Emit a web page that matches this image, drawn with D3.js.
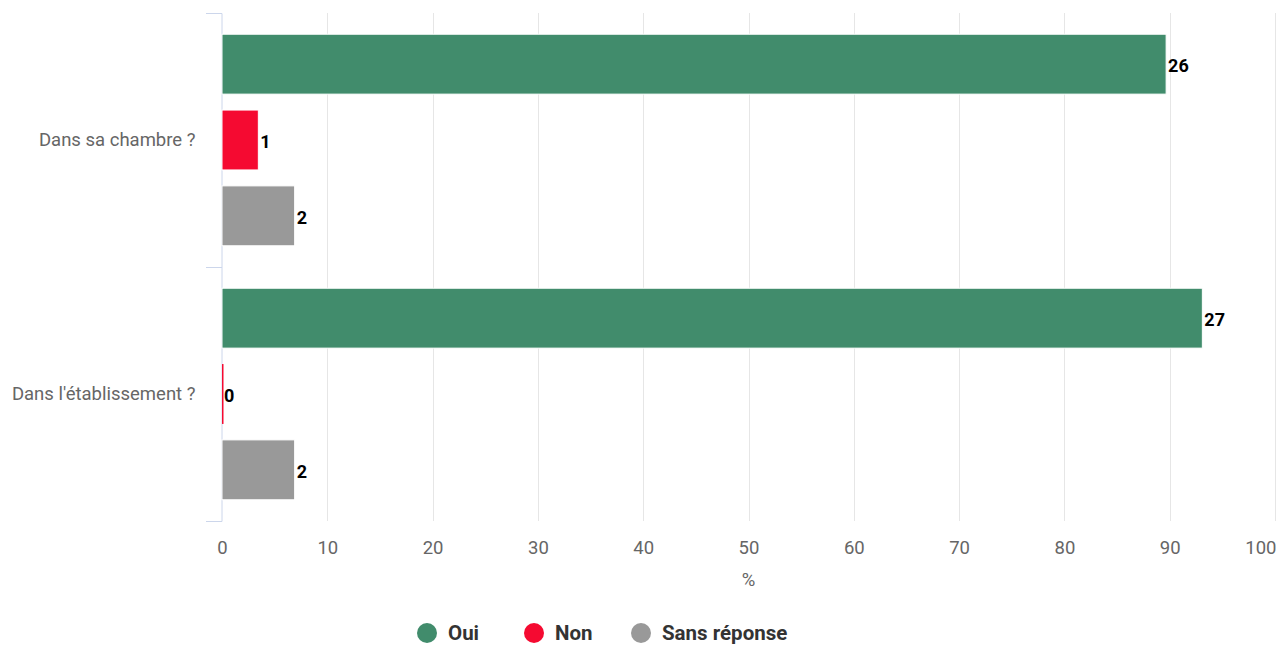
<!DOCTYPE html>
<html>
<head>
<meta charset="utf-8">
<script src="https://cdn.jsdelivr.net/npm/d3@7"></script>
<style>
  body { margin: 0; background: #fff; }
  svg { font-family: Roboto, "Noto Sans", sans-serif; }
</style>
</head>
<body>
<div id="chart"></div>
<script>
// categories, series, values (percent) and counts shown on the bars
var categories = ["Dans sa chambre ?", "Dans l'établissement ?"];
var seriesNames = ["Oui", "Non", "Sans réponse"];
var seriesColors = ["#418c6c", "#f50a31", "#999999"];
var ouiPct = [89.66, 93.1];
var nonPct = [3.45, 0];
var sansPct = [6.9, 6.9];
var ouiCount = [26, 27];
var nonCount = [1, 0];
var sansCount = [2, 2];
var xTicks = [0, 10, 20, 30, 40, 50, 60, 70, 80, 90, 100];

var w = 1277, h = 645
    , plotLeft = 222, plotRight = 1275, plotTop = 13, plotBottom = 521;

var pct = [ouiPct, nonPct, sansPct];
var counts = [ouiCount, nonCount, sansCount];
var data = [];
categories.forEach(function(c, ci) {
  seriesNames.forEach(function(s, si) {
    data.push({cat: c, series: s, si: si, value: pct[si][ci], count: counts[si][ci]});
  });
});

var svg = d3.select("#chart").append("svg")
    .attr("width", w)
    .attr("height", h);

var xScale = d3.scaleLinear().domain([0, 100]).range([plotLeft, plotRight]);
var yScale = d3.scaleBand().domain(categories).range([plotTop, plotBottom]);
var inner = d3.scaleBand().domain(seriesNames).range([0, yScale.bandwidth()]).paddingInner(0.21).paddingOuter(0.28);

// grid
svg.append("g")
    .selectAll("line")
    .data(xTicks.slice(1))
    .enter()
    .append("line")
    .attr("x1", function(d) { return Math.round(xScale(d)) + 0.5; })
    .attr("x2", function(d) { return Math.round(xScale(d)) + 0.5; })
    .attr("y1", plotTop)
    .attr("y2", plotBottom)
    .attr("stroke", "#e6e6e6")
    .attr("stroke-width", 1);

// x axis labels
var xAxis = d3.axisBottom(xScale).tickValues(xTicks).tickSize(0).tickPadding(20);
var gx = svg.append("g")
    .attr("transform", "translate(0," + plotBottom + ")")
    .call(xAxis);
gx.select(".domain").remove();
gx.selectAll("text")
    .attr("fill", "#666666")
    .style("font-size", "18.5px")
    .style("font-family", "Roboto, sans-serif");
// keep the last label inside the frame
gx.selectAll(".tick").filter(function(d) { return d === 100; })
    .select("text")
    .attr("text-anchor", "end")
    .attr("x", 1);

svg.append("text")
    .attr("x", (plotLeft + plotRight) / 2)
    .attr("y", 586)
    .attr("text-anchor", "middle")
    .attr("fill", "#666666")
    .style("font-size", "18.5px")
    .text("%");

// y axis
var yAxis = d3.axisLeft(yScale).tickSize(0).tickPadding(26);
var gy = svg.append("g")
    .attr("transform", "translate(" + (plotLeft - 0.5) + ",0)")
    .call(yAxis);
gy.select(".domain").attr("stroke", "#ccd6eb");
gy.selectAll("text")
    .attr("fill", "#666666")
    .style("font-size", "18.5px")
    .style("font-family", "Roboto, sans-serif");
// category boundary ticks
var bounds = categories.map(function(c) { return yScale(c); }).concat([plotBottom]);
svg.append("g")
    .selectAll("line")
    .data(bounds)
    .enter()
    .append("line")
    .attr("x1", plotLeft - 16)
    .attr("x2", plotLeft)
    .attr("y1", function(d) { return Math.round(d) + 0.5; })
    .attr("y2", function(d) { return Math.round(d) + 0.5; })
    .attr("stroke", "#ccd6eb");

// bars
var bars = svg.append("g");
bars.selectAll("rect")
    .data(data)
    .enter()
    .append("rect")
    .attr("x", xScale(0))
    .attr("y", function(d) { return yScale(d.cat) + inner(d.series); })
    .attr("width", function(d) { return Math.max(xScale(d.value) - xScale(0), 1.5); })
    .attr("height", inner.bandwidth())
    .attr("fill", function(d) { return seriesColors[d.si]; })
    .attr("stroke", "#ffffff")
    .attr("stroke-width", function(d) { return d.value > 0 ? 1 : 0; });

bars.selectAll("text")
    .data(data)
    .enter()
    .append("text")
    .attr("x", function(d) { return xScale(d.value) + 2; })
    .attr("y", function(d) { return yScale(d.cat) + inner(d.series) + inner.bandwidth() / 2; })
    .attr("dy", "0.45em")
    .attr("fill", "#000000")
    .style("font-size", "18px")
    .style("font-weight", "bold")
    .text(function(d) { return d.count; });

// legend
var legendX = [427, 534, 641];
var legend = svg.append("g");
var items = legend.selectAll("g")
    .data(seriesNames)
    .enter()
    .append("g")
    .attr("transform", function(d, i) { return "translate(" + legendX[i] + ",633)"; });
items.append("circle")
    .attr("r", 10)
    .attr("fill", function(d, i) { return seriesColors[i]; });
items.append("text")
    .attr("x", 21)
    .attr("dy", "0.35em")
    .attr("fill", "#333333")
    .style("font-size", "20.5px")
    .style("font-weight", "bold")
    .text(function(d) { return d; });
</script>
</body>
</html>
